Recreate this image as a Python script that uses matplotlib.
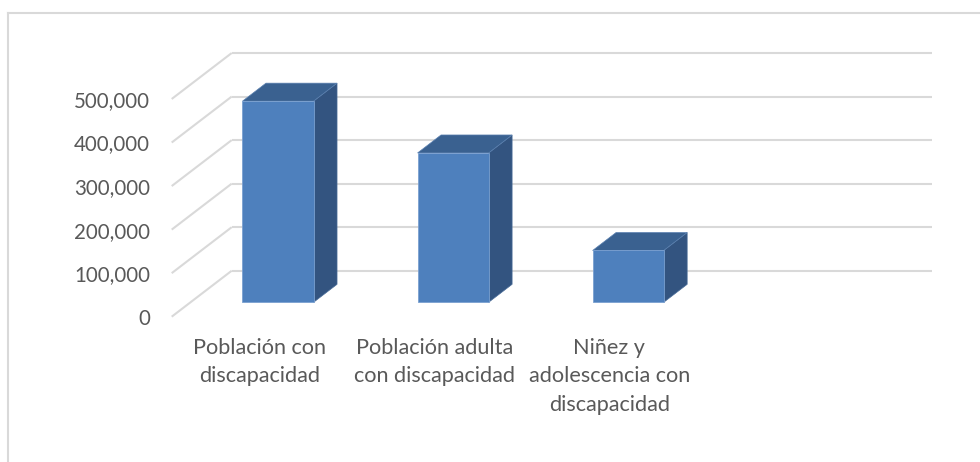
import matplotlib.pyplot as plt
from matplotlib.patches import Polygon
from matplotlib.lines import Line2D

# Datos
categorias = ['Población con\ndiscapacidad',
              'Población adulta\ncon discapacidad',
              'Niñez y\nadolescencia con\ndiscapacidad']
valores = [462000, 343000, 119000]
ticks_y = [0, 100000, 200000, 300000, 400000, 500000]

# Colores estilo Excel
c_frente = '#4e80bd'
c_lado = '#335480'
c_tapa = '#3a6190'
c_grid = '#d9d9d9'
c_texto = '#595959'

plt.rcParams['font.family'] = ['Lato', 'DejaVu Sans']

fig = plt.figure(figsize=(9.8, 4.62), dpi=100)
ax = fig.add_axes([171.7 / 980, (462 - 316.7) / 462, (932 - 171.7) / 980, (316.7 - 53) / 462])

# Desplazamiento de profundidad (proyección oblicua) en unidades de datos
DX = 60 / 175
DY = 105600
n_cat = 4
ancho = 0.406
d0, d1 = 0.313, 0.704  # profundidad frontal y trasera de las columnas

ax.set_xlim(-0.5, n_cat - 0.5 + DX)
ax.set_ylim(0, ticks_y[-1] + DY)

# Líneas de la pared trasera y la pared lateral
for v in ticks_y:
    ax.plot([-0.5 + DX, n_cat - 0.5 + DX], [v + DY, v + DY], color=c_grid, lw=1.5,
            clip_on=False, zorder=1, solid_capstyle='butt')
    ax.plot([-0.5, -0.5 + DX], [v, v + DY], color=c_grid, lw=1.5,
            clip_on=False, zorder=1, solid_capstyle='butt')

# Columnas 3D
xs = list(range(len(valores)))
ax.bar([x + d0 * DX for x in xs], valores, width=ancho, bottom=d0 * DY,
       color=c_frente, edgecolor='#7aa0d0', linewidth=0.6, zorder=3)
for x, v in zip(xs, valores):
    xl = x - ancho / 2
    xr = x + ancho / 2
    lado = [(xr + d0 * DX, d0 * DY), (xr + d1 * DX, d1 * DY),
            (xr + d1 * DX, d1 * DY + v), (xr + d0 * DX, d0 * DY + v)]
    tapa = [(xl + d0 * DX, d0 * DY + v), (xr + d0 * DX, d0 * DY + v),
            (xr + d1 * DX, d1 * DY + v), (xl + d1 * DX, d1 * DY + v)]
    ax.add_patch(Polygon(lado, closed=True, facecolor=c_lado, edgecolor='#4a6d99',
                         linewidth=0.5, zorder=2))
    ax.add_patch(Polygon(tapa, closed=True, facecolor=c_tapa, edgecolor='#5a80b0',
                         linewidth=0.5, zorder=2))

# Ejes
for s in ax.spines.values():
    s.set_visible(False)
ax.set_yticks(ticks_y)
ax.set_yticklabels([f'{v:,}' for v in ticks_y])
ax.set_xticks(xs)
ax.set_xticklabels(categorias)
ax.tick_params(axis='y', length=0, pad=15.6, labelsize=14.8, labelcolor=c_texto)
ax.tick_params(axis='x', length=0, pad=15, labelsize=15.6, labelcolor=c_texto)
for t in ax.get_xticklabels():
    t.set_linespacing(1.55)
ax.set_facecolor('none')

# Borde del área del gráfico
fig.add_artist(Line2D([7.5 / 980, 1.0], [1 - 12.5 / 462, 1 - 12.5 / 462],
                      color=c_grid, lw=1.5, transform=fig.transFigure))
fig.add_artist(Line2D([7.5 / 980, 7.5 / 980], [0, 1 - 12.5 / 462],
                      color=c_grid, lw=1.5, transform=fig.transFigure))

fig.savefig('out.png', dpi=100)
